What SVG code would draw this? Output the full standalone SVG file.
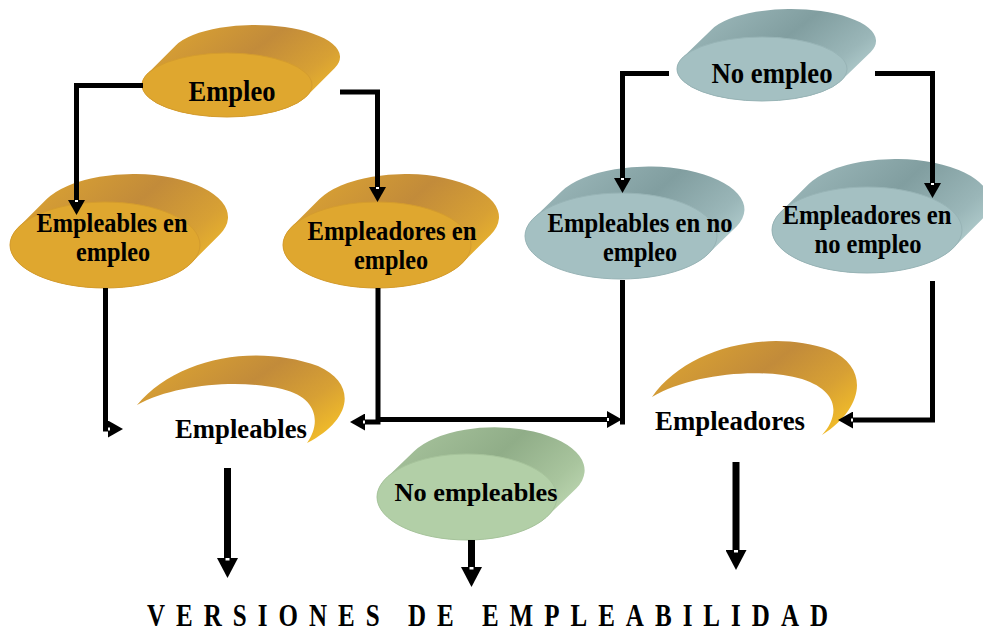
<svg xmlns="http://www.w3.org/2000/svg" width="983" height="632" viewBox="0 0 983 632">
<style>
.lbl{font-family:"Liberation Serif","Times New Roman",serif;font-weight:bold;fill:#000;text-anchor:middle}
.c{fill:none;stroke:#000;stroke-width:5;stroke-linejoin:miter;stroke-linecap:butt}
.cb{fill:none;stroke:#000;stroke-width:7;stroke-linecap:butt}
.gF{fill:#DFA72F;stroke:#D49C2E;stroke-width:1}
.tF{fill:#A4C0C2;stroke:#98B4B6;stroke-width:1}
.vF{fill:#B2CFA7;stroke:#A6C39B;stroke-width:1}
</style>
<defs>
<linearGradient id="gB" x1="0" y1="0.2" x2="1" y2="0.8">
<stop offset="0" stop-color="#DCA432"/><stop offset="0.45" stop-color="#C28B3A"/><stop offset="0.75" stop-color="#D7A034"/><stop offset="1" stop-color="#F3BE29"/>
</linearGradient>
<linearGradient id="tB" x1="0" y1="0.2" x2="1" y2="0.8">
<stop offset="0" stop-color="#9DB9BB"/><stop offset="0.45" stop-color="#819EA0"/><stop offset="0.75" stop-color="#9AB6B8"/><stop offset="1" stop-color="#BFDADA"/>
</linearGradient>
<linearGradient id="vB" x1="0" y1="0.2" x2="1" y2="0.8">
<stop offset="0" stop-color="#A8C49D"/><stop offset="0.45" stop-color="#90AD88"/><stop offset="0.75" stop-color="#A8C49D"/><stop offset="1" stop-color="#C6DFBA"/>
</linearGradient>
<marker id="ah" markerUnits="userSpaceOnUse" viewBox="0 0 15 17" refX="0" refY="8.5" markerWidth="15" markerHeight="17" orient="auto">
<path d="M0,0 L15,8.5 L0,17 Z" fill="#000"/><rect x="0" y="7" width="2" height="3" fill="#fff"/>
</marker>
<marker id="ahb" markerUnits="userSpaceOnUse" viewBox="0 0 20 21" refX="0" refY="10.5" markerWidth="20" markerHeight="21" orient="auto">
<path d="M0,0 L20,10.5 L0,21 Z" fill="#000"/><rect x="0" y="8.5" width="2.5" height="4" fill="#fff"/>
</marker>
</defs>
<rect width="983" height="632" fill="#fff"/>

<g id="n-empleo">
<path d="M147.45,73.72 L175.45,45.72 A85,32 0 0 1 334.55,68.28 L306.55,96.28 A85,32 0 0 1 147.45,73.72 Z" fill="url(#gB)"/>
<ellipse class="gF" cx="227" cy="85" rx="85" ry="32"/>
<text class="lbl" x="232" y="101" font-size="29" textLength="87" lengthAdjust="spacingAndGlyphs">Empleo</text>
</g>

<g id="n-empleables-en-empleo">
<path d="M18.45,227.27 L46.45,199.27 A95,43 0 0 1 219.55,234.73 L191.55,262.73 A95,43 0 0 1 18.45,227.27 Z" fill="url(#gB)"/>
<ellipse class="gF" cx="105" cy="245" rx="95" ry="43"/>
<text class="lbl" x="112" y="232" font-size="27" textLength="151" lengthAdjust="spacingAndGlyphs">Empleables en</text>
<text class="lbl" x="113" y="261" font-size="27" textLength="74" lengthAdjust="spacingAndGlyphs">empleo</text>
</g>

<g id="n-empleadores-en-empleo">
<path d="M291.52,227.11 L319.52,199.11 A94,43 0 0 1 490.48,234.89 L462.48,262.89 A94,43 0 0 1 291.52,227.11 Z" fill="url(#gB)"/>
<ellipse class="gF" cx="377" cy="245" rx="94" ry="43"/>
<text class="lbl" x="392" y="240" font-size="27" textLength="169" lengthAdjust="spacingAndGlyphs">Empleadores en</text>
<text class="lbl" x="391" y="269" font-size="27" textLength="74" lengthAdjust="spacingAndGlyphs">empleo</text>
</g>

<g id="n-no-empleo">
<path d="M682.45,57.72 L711.45,29.72 A85,32 0 0 1 870.55,52.28 L841.55,80.28 A85,32 0 0 1 682.45,57.72 Z" fill="url(#tB)"/>
<ellipse class="tF" cx="762" cy="69" rx="85" ry="32"/>
<text class="lbl" x="772" y="83" font-size="29" textLength="121" lengthAdjust="spacingAndGlyphs">No empleo</text>
</g>

<g id="n-empleables-en-no-empleo">
<path d="M533.4,218.42 L561.4,191.42 A96,43 0 0 1 736.6,226.58 L708.6,253.58 A96,43 0 0 1 533.4,218.42 Z" fill="url(#tB)"/>
<ellipse class="tF" cx="621" cy="236" rx="96" ry="43"/>
<text class="lbl" x="640" y="232" font-size="27" textLength="185" lengthAdjust="spacingAndGlyphs">Empleables en no</text>
<text class="lbl" x="640" y="261" font-size="27" textLength="74" lengthAdjust="spacingAndGlyphs">empleo</text>
</g>

<g id="n-empleadores-en-no-empleo">
<path d="M780.45,212.27 L808.45,184.27 A95,43 0 0 1 981.55,219.73 L953.55,247.73 A95,43 0 0 1 780.45,212.27 Z" fill="url(#tB)"/>
<ellipse class="tF" cx="867" cy="230" rx="95" ry="43"/>
<text class="lbl" x="867" y="224" font-size="27" textLength="169" lengthAdjust="spacingAndGlyphs">Empleadores en</text>
<text class="lbl" x="868" y="253" font-size="27" textLength="107" lengthAdjust="spacingAndGlyphs">no empleo</text>
</g>

<g id="n-empleables">
<path d="M137,405 C176,358 255,343 318,366 C358,384 352,420 307,443 C320,425 320,398 282,389 C240,379 175,384 137,405 Z" fill="url(#gB)"/>
<text class="lbl" x="241" y="438" font-size="27" textLength="132" lengthAdjust="spacingAndGlyphs">Empleables</text>
</g>

<g id="n-empleadores">
<path d="M652,397 C686,348 768,328 830,350 C870,368 864,408 822,435 C838,418 842,392 802,379 C760,367 690,374 652,397 Z" fill="url(#gB)"/>
<text class="lbl" x="730" y="430" font-size="27" textLength="150" lengthAdjust="spacingAndGlyphs">Empleadores</text>
</g>

<g id="n-no-empleables">
<path d="M385.8,478.46 L413.8,451.46 A90,43 0 0 1 576.2,488.54 L548.2,515.54 A90,43 0 0 1 385.8,478.46 Z" fill="url(#vB)"/>
<ellipse class="vF" cx="467" cy="497" rx="90" ry="43"/>
<text class="lbl" x="476" y="501" font-size="26" textLength="163" lengthAdjust="spacingAndGlyphs">No empleables</text>
</g>

<g id="connectors">
<path class="c" d="M143,85.5 H76.5 V200" marker-end="url(#ah)"/>
<path class="c" d="M340,92 H377.5 V187" marker-end="url(#ah)"/>
<path class="c" d="M105.5,288 V429 H108" marker-end="url(#ah)"/>
<path class="c" d="M378,288 V422 H365" marker-end="url(#ah)"/>
<path class="c" d="M378,419.5 H607" marker-end="url(#ah)"/>
<path class="c" d="M622.5,280 V424.5"/>
<path class="c" d="M669,73.5 H622.5 V178" marker-end="url(#ah)"/>
<path class="c" d="M875,73.5 H932.5 V183" marker-end="url(#ah)"/>
<path class="c" d="M932.5,281 V420 H853" marker-end="url(#ah)"/>
<path class="cb" d="M227.5,468 V558" marker-end="url(#ahb)"/>
<path class="cb" d="M471.5,540 V567" marker-end="url(#ahb)"/>
<path class="cb" d="M736,462 V550" marker-end="url(#ahb)"/>
</g>

<text class="lbl" style="text-anchor:start" font-size="25" transform="translate(147,626) scale(1,1.28)" textLength="681" lengthAdjust="spacing">VERSIONES DE EMPLEABILIDAD</text>
</svg>
